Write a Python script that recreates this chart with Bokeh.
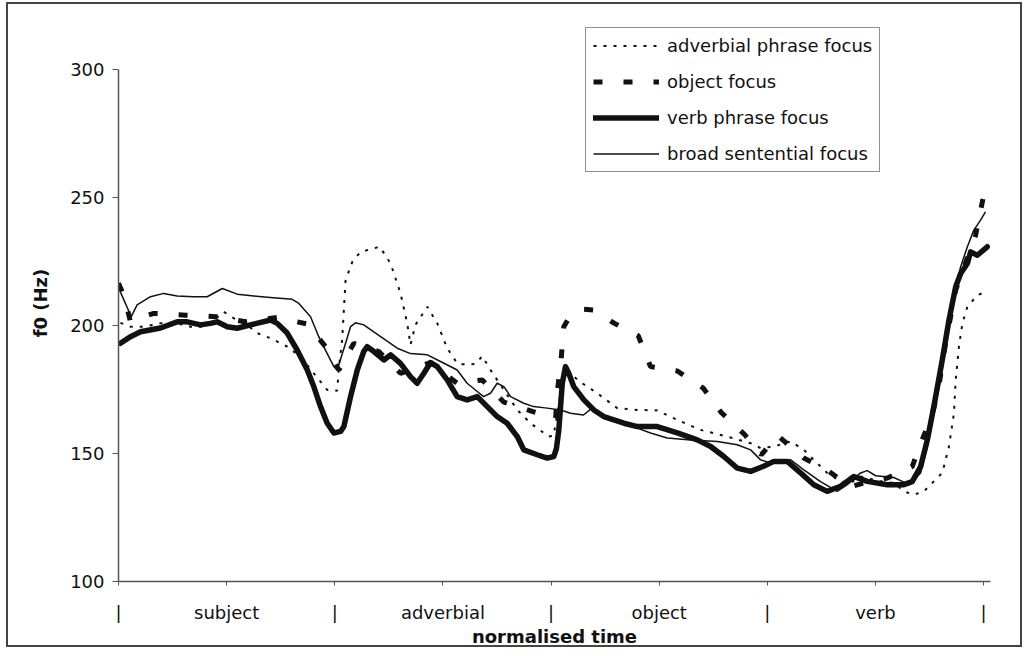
from bokeh.plotting import figure
from bokeh.models import FixedTicker, Range1d, Legend, LegendItem
from bokeh.embed import file_html
from bokeh.resources import INLINE

# normalised time (0-4: subject, adverbial, object, verb) and f0 (Hz)
t_adv = [0.009, 0.055, 0.117, 0.194, 0.271, 0.333, 0.394, 0.425, 0.487, 0.533, 0.595, 0.641, 0.703, 0.780,
         0.842, 0.903, 0.965, 1.011, 1.019, 1.034, 1.050, 1.081, 1.119, 1.208, 1.258, 1.304, 1.335, 1.350,
         1.373, 1.428, 1.474, 1.520, 1.566, 1.612, 1.651, 1.682, 1.720, 1.782, 1.844, 1.905, 1.967, 1.990,
         2.012, 2.053, 2.076, 2.144, 2.214, 2.306, 2.399, 2.491, 2.584, 2.691, 2.815, 2.923, 2.969, 3.030,
         3.108, 3.169, 3.215, 3.277, 3.339, 3.385, 3.431, 3.524, 3.585, 3.631, 3.678, 3.724, 3.770, 3.809,
         3.840, 3.863, 3.871, 3.886, 3.902, 3.925, 3.971, 4.009]
f_adv = [201, 199.5, 199.5, 200.8, 200.8, 199.5, 199.5, 200.8, 205.3, 202.8, 200.2, 197, 195, 191.7,
         187.8, 181.3, 174.8, 174.5, 183.3, 194.3, 217.7, 224.8, 228.7, 230.7, 224.2, 212.5, 200.8, 192.4,
         200.2, 207.3, 200.8, 191.1, 185.2, 184.6, 185, 188, 182.6, 174.8, 167, 161.8, 158, 156.6,
         157, 178, 182, 177.4, 173.5, 167.7, 167, 166.8, 163.1, 159.2, 156.6, 154, 152.1, 152.7,
         154.7, 151.4, 147.5, 142.4, 139, 138.5, 141, 139.1, 138.5, 135.2, 133.9, 135.2, 139.1, 142.4,
         152.7, 165.7, 178.7, 191.7, 200.8, 207.3, 211.8, 213.1]

t_obj = [0.0, 0.028, 0.055, 0.102, 0.163, 0.310, 0.453, 0.587, 0.734, 0.875, 0.957, 1.019, 1.088, 1.204,
         1.304, 1.443, 1.566, 1.682, 1.782, 1.913, 2.007, 2.021, 2.031, 2.047, 2.059, 2.090, 2.147, 2.206,
         2.286, 2.403, 2.460, 2.584, 2.704, 2.787, 2.896, 2.972, 3.049, 3.169, 3.285, 3.385, 3.468, 3.555,
         3.670, 3.719, 3.763, 3.793, 3.824, 3.871, 3.963, 3.999]
f_obj = [216.5, 211, 201.5, 203, 204.7, 204, 203.4, 201.4, 203.1, 200.5, 191.7, 182.6, 193, 189.8,
         181.3, 185.5, 177.4, 178.7, 170, 166.4, 164, 163.8, 175.5, 187.2, 199.5, 204, 206.3, 206,
         201.1, 196, 183.9, 182.2, 175.5, 166, 157.3, 149.5, 156.9, 148.2, 143, 137, 139, 140.4,
         144.9, 156, 165.1, 176.1, 193, 213.8, 235.2, 250.2]

t_vp = [0.009, 0.055, 0.102, 0.194, 0.271, 0.318, 0.379, 0.425, 0.456, 0.503, 0.549, 0.610, 0.703, 0.734,
        0.780, 0.826, 0.873, 0.903, 0.934, 0.965, 0.996, 1.027, 1.042, 1.073, 1.104, 1.134, 1.150, 1.181,
        1.227, 1.258, 1.304, 1.350, 1.381, 1.412, 1.443, 1.474, 1.520, 1.566, 1.612, 1.659, 1.705, 1.751,
        1.797, 1.844, 1.874, 1.936, 1.982, 2.013, 2.025, 2.036, 2.052, 2.067, 2.082, 2.105, 2.152, 2.198,
        2.244, 2.337, 2.399, 2.491, 2.584, 2.676, 2.738, 2.799, 2.861, 2.923, 2.983, 3.030, 3.092, 3.154,
        3.215, 3.277, 3.339, 3.400, 3.462, 3.555, 3.631, 3.670, 3.709, 3.740, 3.770, 3.809, 3.840, 3.871,
        3.894, 3.925, 3.940, 3.971, 4.017]
f_vp = [193, 195.6, 197.5, 199, 201.4, 201.4, 200.2, 200.8, 201.4, 199.5, 198.9, 200.2, 202.1, 200.8,
        197, 190.4, 182.6, 176.1, 168.3, 161.8, 158, 158.6, 160.5, 172.2, 182.6, 189.8, 191.7, 189.8,
        186.5, 188.5, 185.2, 180, 177.4, 181.3, 185.5, 183.9, 178.7, 172.2, 170.9, 172.2, 168.3, 164.4,
        161.8, 156.6, 151.4, 149.5, 148.2, 148.8, 152, 159.2, 177.4, 183.9, 181.3, 176.1, 170.9, 167,
        164.4, 161.8, 160.5, 160.5, 158, 155.3, 152.7, 148.8, 144.3, 143, 145, 146.9, 146.9, 142.4,
        137.8, 135.2, 137.2, 141, 139.1, 137.8, 137.8, 139, 144.9, 155.3, 168.3, 186.5, 202.1, 215.1,
        220.3, 224.2, 228.7, 227.4, 230.7]

t_broad = [0.009, 0.059, 0.086, 0.148, 0.209, 0.271, 0.347, 0.410, 0.480, 0.549, 0.626, 0.688, 0.803, 0.834,
           0.888, 0.926, 0.965, 0.996, 1.011, 1.050, 1.073, 1.096, 1.134, 1.212, 1.289, 1.350, 1.428, 1.489,
           1.566, 1.612, 1.659, 1.688, 1.720, 1.751, 1.782, 1.813, 1.874, 1.919, 1.982, 2.044, 2.090, 2.150,
           2.191, 2.229, 2.306, 2.399, 2.460, 2.537, 2.645, 2.769, 2.861, 2.923, 2.969, 3.015, 3.108, 3.169,
           3.246, 3.323, 3.370, 3.431, 3.462, 3.501, 3.585, 3.624, 3.655, 3.709, 3.740, 3.770, 3.801, 3.824,
           3.847, 3.871, 3.894, 3.925, 3.955, 3.986, 4.009]
f_broad = [213, 203.4, 208, 211.2, 212.5, 211.5, 211.2, 211.2, 214.4, 212.2, 211.5, 211, 210.2, 208.6,
           203.4, 195.6, 189, 183.9, 182.6, 193, 199.5, 201, 200.2, 195.6, 191.1, 189, 188.5, 185.9,
           182.6, 177.4, 174.2, 172.2, 173.5, 177.4, 176.1, 172.2, 169.6, 168.3, 167.7, 167, 165.7, 165,
           167.8, 165.1, 162.5, 159.9, 158, 156, 155.3, 154.7, 153.4, 151.4, 147.5, 146.3, 147.5, 143.6,
           139, 135.2, 137.8, 142.4, 143.3, 141.3, 140.6, 139.1, 137.8, 142.4, 152.7, 165.7, 178.7, 191.7,
           204.7, 215.1, 222.9, 230.7, 237.2, 241.1, 244.3]

x_ticks = [0.0, 0.5, 1.0, 1.5, 2.0, 2.5, 3.0, 3.5, 4.0]
x_tick_labels = ["|", "subject", "|", "adverbial", "|", "object", "|", "verb", "|"]
y_ticks = [100, 150, 200, 250, 300]
series_names = ["adverbial phrase focus", "object focus", "verb phrase focus", "broad sentential focus"]

FONT = "DejaVu Sans"
INK = "#111111"

p = figure(width=1016, height=645, output_backend="svg", toolbar_location=None,
           x_range=Range1d(0, 4.032), y_range=Range1d(100, 317.5),
           min_border_left=110, min_border_right=34, min_border_top=20, min_border_bottom=67)
p.styles = {"border": "2px solid #444", "margin-left": "6px", "margin-top": "2px"}
p.grid.visible = False
p.outline_line_color = None
p.background_fill_color = "white"
p.border_fill_color = "white"

# x axis
xa = p.xaxis[0]
xa.ticker = FixedTicker(ticks=x_ticks, minor_ticks=[])
xa.major_label_overrides = {float(k): v for k, v in zip(x_ticks, x_tick_labels)}
xa.major_tick_in = 0
xa.major_tick_out = 4
xa.minor_tick_out = 0
xa.minor_tick_in = 0
xa.axis_line_color = "#555555"
xa.axis_line_width = 1.5
xa.major_tick_line_color = "#555555"
xa.major_label_standoff = 16
xa.major_label_text_font = FONT
xa.major_label_text_font_size = "18px"
xa.major_label_text_color = INK
xa.axis_label = "normalised time"
xa.axis_label_text_font = FONT
xa.axis_label_text_font_size = "18px"
xa.axis_label_text_font_style = "bold"
xa.axis_label_text_color = INK
xa.axis_label_standoff = 0

# y axis
ya = p.yaxis[0]
ya.ticker = FixedTicker(ticks=y_ticks, minor_ticks=[])
ya.bounds = (100, 300)
ya.major_tick_in = 0
ya.major_tick_out = 6
ya.minor_tick_out = 0
ya.minor_tick_in = 0
ya.axis_line_color = "#555555"
ya.axis_line_width = 1.5
ya.major_tick_line_color = "#555555"
ya.major_label_standoff = 8
ya.major_label_text_font = FONT
ya.major_label_text_font_size = "18px"
ya.major_label_text_color = INK
ya.axis_label = "f0 (Hz)"
ya.axis_label_text_font = FONT
ya.axis_label_text_font_size = "18px"
ya.axis_label_text_font_style = "bold"
ya.axis_label_text_color = INK
ya.axis_label_standoff = 16

r_vp = p.line(t_vp, f_vp, line_color=INK, line_width=5.5, line_join="round", line_cap="round")
r_obj = p.line(t_obj, f_obj, line_color=INK, line_width=5, line_dash="9 21", line_cap="butt")
r_adv = p.line(t_adv, f_adv, line_color=INK, line_width=2, line_dash="3 7", line_cap="butt")
r_broad = p.line(t_broad, f_broad, line_color=INK, line_width=1.5, line_join="round")

legend = Legend(items=[LegendItem(label=series_names[0], renderers=[r_adv]),
                       LegendItem(label=series_names[1], renderers=[r_obj]),
                       LegendItem(label=series_names[2], renderers=[r_vp]),
                       LegendItem(label=series_names[3], renderers=[r_broad])],
                location=(467, 409))
legend.glyph_width = 66
legend.glyph_height = 21
legend.label_height = 21
legend.label_standoff = 8
legend.spacing = 15
legend.padding = 7
legend.margin = 0
legend.border_line_color = "#222222"
legend.border_line_width = 1.5
legend.background_fill_color = "white"
legend.background_fill_alpha = 1.0
legend.label_text_font = FONT
legend.label_text_font_size = "18px"
legend.label_text_color = INK
p.add_layout(legend)

open("out.html", "w").write(file_html(p, INLINE))
